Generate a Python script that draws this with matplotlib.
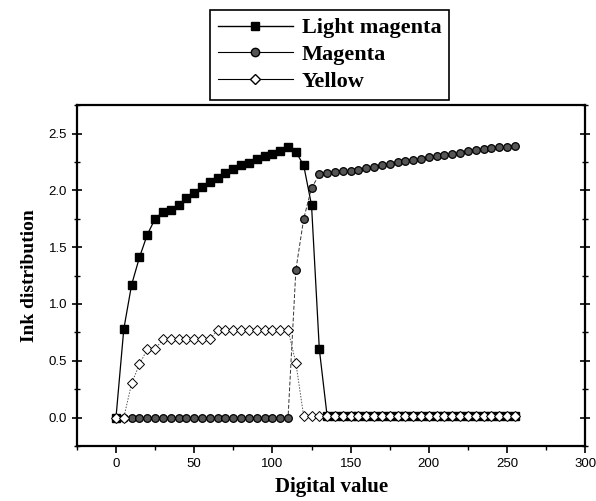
import matplotlib.pyplot as plt
from matplotlib.ticker import MultipleLocator
from matplotlib.lines import Line2D

x = list(range(0, 256, 5))

light_magenta = [0.0, 0.78, 1.17, 1.41, 1.61, 1.75, 1.81, 1.83, 1.87, 1.93,
                 1.98, 2.03, 2.07, 2.11, 2.15, 2.19, 2.22, 2.245, 2.275, 2.30,
                 2.32, 2.35, 2.38, 2.34, 2.22, 1.87, 0.60, 0.01] + [0.01] * 24

magenta = [0.0] * 23 + [1.30, 1.75, 2.02, 2.14, 2.155, 2.165, 2.17, 2.175,
                        2.18, 2.195, 2.21, 2.22, 2.23, 2.25, 2.26, 2.27, 2.28,
                        2.29, 2.30, 2.31, 2.32, 2.33, 2.345, 2.355, 2.36, 2.37,
                        2.38, 2.385, 2.395]

yellow = [0.0, 0.0, 0.30, 0.47, 0.60, 0.60, 0.69, 0.69, 0.69, 0.69, 0.69,
          0.69, 0.69, 0.77, 0.77, 0.77, 0.77, 0.77, 0.77, 0.77, 0.77, 0.77,
          0.77, 0.48, 0.01] + [0.01] * 27

names = ['Light magenta', 'Magenta', 'Yellow']

fig = plt.figure(figsize=(5.96, 5.01), dpi=100)
ax = fig.add_axes([0.129, 0.110, 0.853, 0.680])

ax.plot(x, light_magenta, color='black', lw=0.9, marker='s', ms=5.5,
        mfc='black', mec='black', zorder=2)
ax.plot(x, magenta, color='#333333', lw=0.7, ls=(0, (4, 2)), marker='o', ms=5.5,
        mfc='#555555', mec='black', mew=0.9, zorder=3)
ax.plot(x, yellow, color='#555555', lw=0.7, ls=(0, (1.5, 1.5)), marker='D', ms=5.5,
        mfc='white', mec='black', mew=0.7, zorder=4)

ax.set_xlim(-25, 300)
ax.set_ylim(-0.25, 2.75)
ax.xaxis.set_major_locator(MultipleLocator(50))
ax.xaxis.set_minor_locator(MultipleLocator(25))
ax.yaxis.set_minor_locator(MultipleLocator(0.25))
ax.set_yticks([0, 0.5, 1.0, 1.5, 2.0, 2.5])
ax.set_yticklabels(['0.0', '0.5', '1.0', '1.5', '2.0', '2.5'])

ax.tick_params(axis='x', which='major', direction='out', length=5, width=1.2,
               labelsize=9.5)
ax.tick_params(axis='x', which='minor', direction='out', length=3, width=1)
ax.tick_params(axis='y', which='major', direction='inout', length=7, width=1.2,
               labelsize=9.5, right=True)
ax.tick_params(axis='y', which='minor', direction='inout', length=4, width=1,
               right=True)
for lab in ax.get_xticklabels() + ax.get_yticklabels():
    lab.set_family('Liberation Sans')

for s in ax.spines.values():
    s.set_linewidth(1.6)

ax.set_xlabel('Digital value', family='Liberation Serif', fontweight='bold',
              fontsize=15, labelpad=5)
ax.set_ylabel('Ink distribution', family='Liberation Serif', fontweight='bold',
              fontsize=14, labelpad=8)

# legend lines are all solid in the original
handles = [
    Line2D([], [], color='black', lw=1, marker='s', ms=6, mfc='black', mec='black'),
    Line2D([], [], color='black', lw=0.8, marker='o', ms=6, mfc='#555555', mec='black'),
    Line2D([], [], color='black', lw=0.8, marker='D', ms=5.5, mfc='white', mec='black'),
]
leg = fig.legend(handles, names, loc='upper center', bbox_to_anchor=(0.553, 0.98),
                 prop={'family': 'Liberation Serif', 'weight': 'bold', 'size': 16},
                 fancybox=False, edgecolor='black', framealpha=1,
                 handlelength=3.4, labelspacing=0.28, borderpad=0.35,
                 handletextpad=0.4, borderaxespad=0)
leg.get_frame().set_linewidth(1.2)

fig.savefig('out.png', dpi=100)
